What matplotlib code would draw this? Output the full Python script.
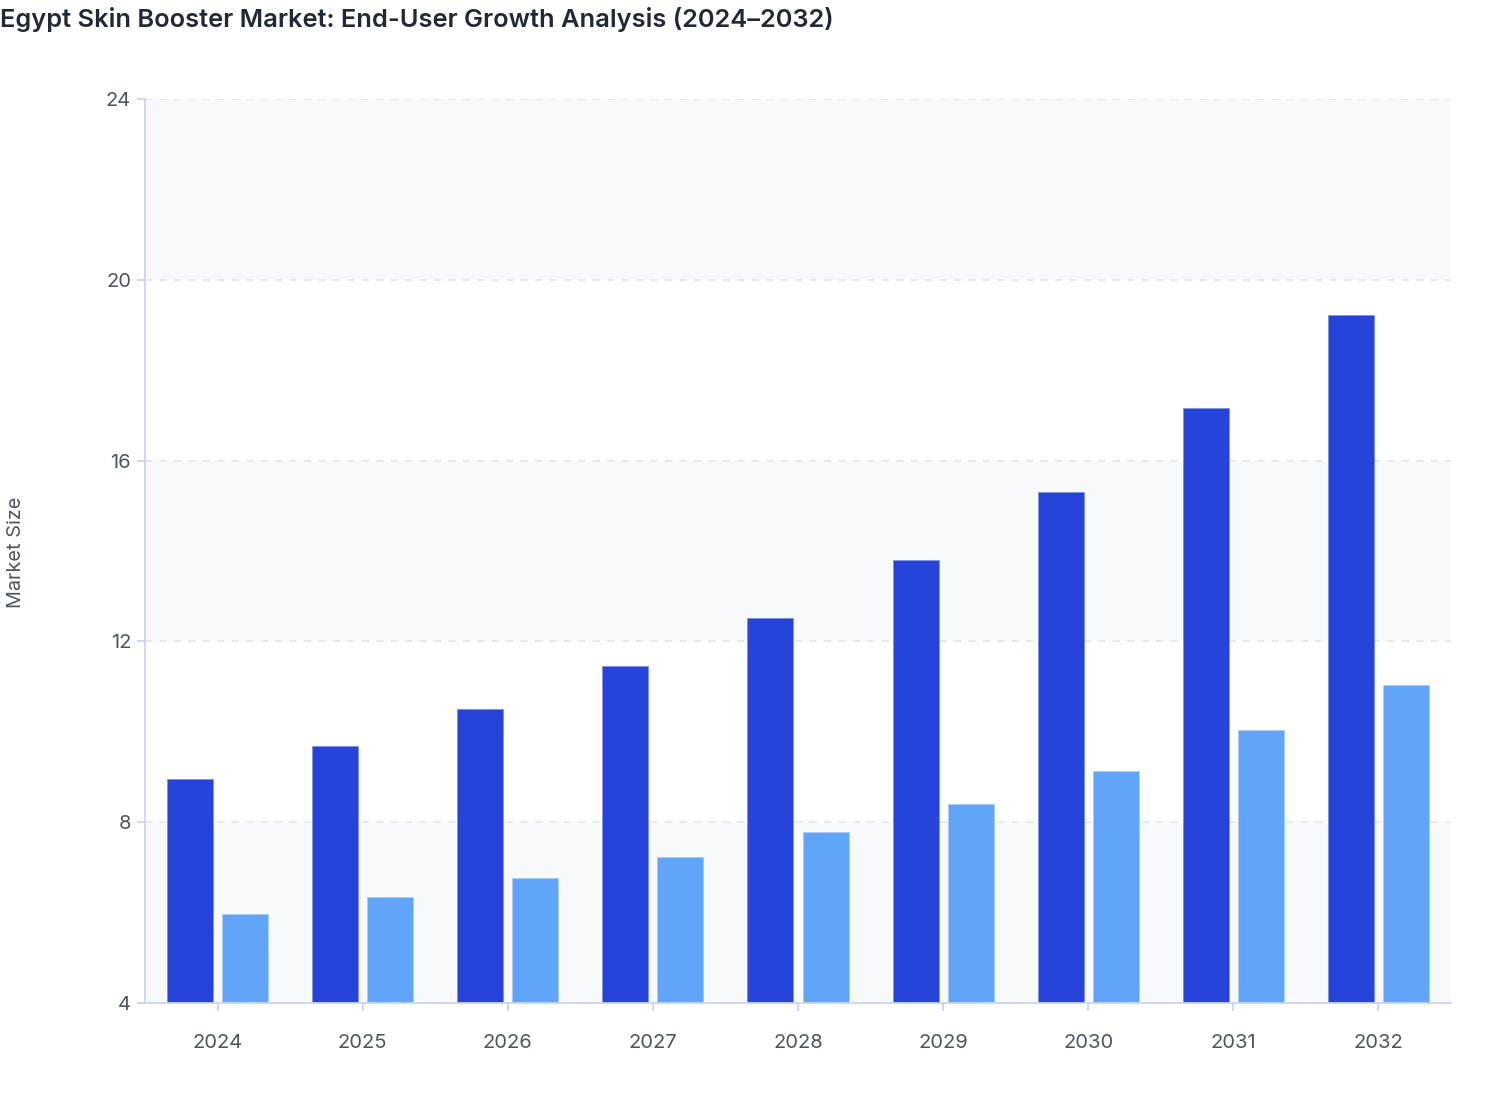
import matplotlib.pyplot as plt
import numpy as np

years = ['2024', '2025', '2026', '2027', '2028', '2029', '2030', '2031', '2032']
dark_vals = [8.95, 9.69, 10.51, 11.46, 12.52, 13.80, 15.31, 17.16, 19.22]
light_vals = [5.97, 6.35, 6.77, 7.23, 7.78, 8.40, 9.13, 10.04, 11.04]
y_ticks = [4, 8, 12, 16, 20, 24]

plt.rcParams['font.family'] = ['Inter', 'DejaVu Sans']

fig = plt.figure(figsize=(15.08, 11.2), dpi=100)
ax = fig.add_axes([145 / 1508, 117 / 1120, 1306 / 1508, 904 / 1120])

x = np.arange(len(years))
w = 0.317
off = 0.19

# alternating background bands
for i in range(len(y_ticks) - 1):
    if i % 2 == 0:
        ax.axhspan(y_ticks[i], y_ticks[i + 1], color='#f8f9fb', zorder=0, lw=0)
for t in y_ticks[1:]:
    ax.axhline(t, color='#e3e7ee', lw=1.3, ls=(0, (4, 4)), zorder=1)

ax.bar(x - off, [v - 4 for v in dark_vals], w, bottom=4, color='#2644d9',
       edgecolor='#7d90e6', linewidth=0.6, zorder=2)
ax.bar(x + off, [v - 4 for v in light_vals], w, bottom=4, color='#60a5fa',
       edgecolor='#a9cbfb', linewidth=0.6, zorder=2)

ax.set_xlim(-0.5, len(years) - 0.5)
ax.set_ylim(4, 24)
ax.set_yticks(y_ticks)
ax.set_xticks(x)
ax.set_xticklabels(years)

for s in ['top', 'right']:
    ax.spines[s].set_visible(False)
for s in ['left', 'bottom']:
    ax.spines[s].set_color('#c6d6f7')
    ax.spines[s].set_linewidth(1.3)
ax.tick_params(axis='both', colors='#c6d6f7', labelcolor='#4b5563', labelsize=14.5,
               length=6, width=1.3)
ax.tick_params(axis='x', pad=16)
ax.tick_params(axis='y', pad=4)

fig.text(16 / 1508, 1 - 552 / 1120, 'Market Size', rotation=90, ha='center', va='center',
         fontsize=14.3, color='#4b5563')
fig.text(0, 1 - 20 / 1120, 'Egypt Skin Booster Market: End-User Growth Analysis (2024\u20132032)',
         ha='left', va='center', fontsize=18.3, fontweight='semibold', color='#1f2937')

fig.savefig('out.png', dpi=100, facecolor='white')
